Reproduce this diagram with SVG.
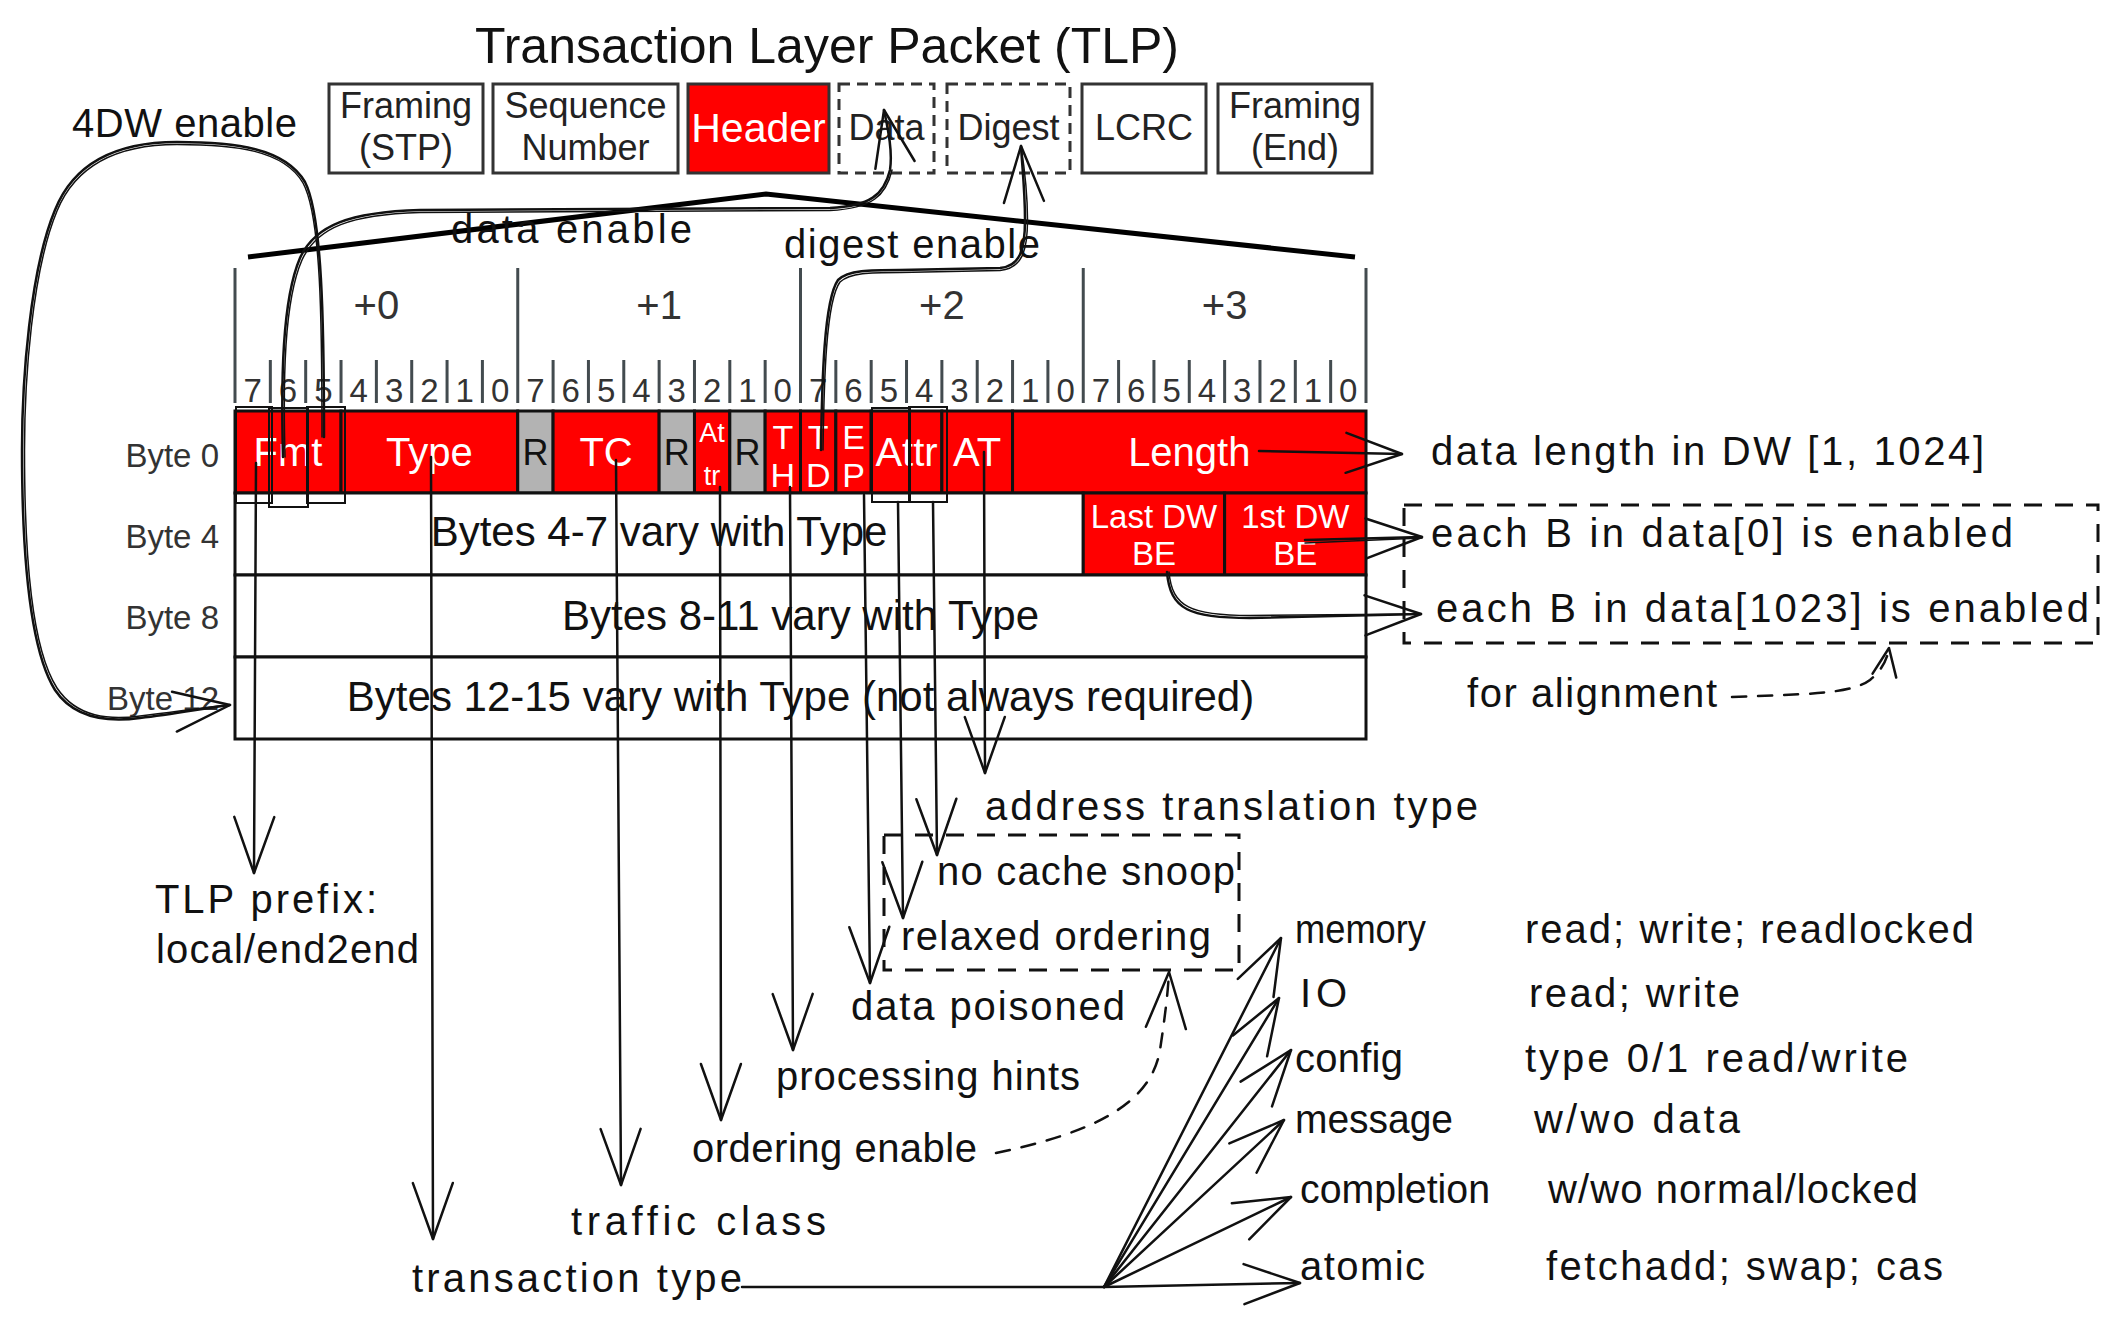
<svg xmlns="http://www.w3.org/2000/svg" xmlns:xlink="http://www.w3.org/1999/xlink" width="2117" height="1332" viewBox="0 0 2117 1332">
<style>
.title{font-family:"Liberation Sans",Arial,sans-serif;font-size:50px;fill:#111;text-anchor:middle}
.box{fill:#fff;stroke:#333;stroke-width:3}
.dbox{fill:#fff;stroke:#333;stroke-width:3;stroke-dasharray:11 7}
.btxt{font-family:"Liberation Sans",Arial,sans-serif;font-size:36px;fill:#222;text-anchor:middle}
.tick{stroke:#434b4f;stroke-width:3}
.bit{font-family:"Liberation Sans",Arial,sans-serif;font-size:33px;fill:#333;text-anchor:middle}
.off{font-family:"Liberation Sans",Arial,sans-serif;font-size:40px;fill:#333;text-anchor:middle}
.red{fill:#ff0000;stroke:#111;stroke-width:3}
.gray{fill:#b3b3b3;stroke:#111;stroke-width:3}
.row{fill:#fff;stroke:#111;stroke-width:3}
.wt{font-family:"Liberation Sans",Arial,sans-serif;font-size:40px;fill:#fff;text-anchor:middle}
.bk{font-family:"Liberation Sans",Arial,sans-serif;font-size:42px;fill:#111;text-anchor:middle}
.blab{font-family:"Liberation Sans",Arial,sans-serif;font-size:33px;fill:#333;text-anchor:end}
.hw{font-family:"Liberation Sans",Arial,sans-serif;font-size:40px;fill:#111}
.ln{fill:none;stroke:#111;stroke-width:2.5;stroke-linecap:round;stroke-linejoin:round}
.ln2{fill:none;stroke:#111;stroke-width:1.5;stroke-linecap:round;stroke-linejoin:round}
.dash{fill:none;stroke:#111;stroke-width:2.5;stroke-dasharray:14 12;stroke-linecap:round}
.sk{fill:none;stroke:#111;stroke-width:2}
.dbx{fill:none;stroke:#111;stroke-width:3;stroke-dasharray:18 13}
</style>
<defs>
<marker id="ah" markerUnits="userSpaceOnUse" viewBox="-70 -30 80 60" markerWidth="80" markerHeight="60" refX="0" refY="0" orient="auto" overflow="visible">
<path d="M-56,-20 L0,0 L-56,20" fill="none" stroke="#111" stroke-width="2.5" stroke-linecap="round" stroke-linejoin="round"/>
</marker>
<marker id="ahs" markerUnits="userSpaceOnUse" viewBox="-40 -20 50 40" markerWidth="50" markerHeight="40" refX="0" refY="0" orient="auto" overflow="visible">
<path d="M-28,-12 L0,0 L-28,12" fill="none" stroke="#111" stroke-width="2.5" stroke-linecap="round" stroke-linejoin="round"/>
</marker>
</defs>
<rect width="2117" height="1332" fill="#fff"/>

<g id="title"><text class="title" x="827" y="63">Transaction Layer Packet (TLP)</text></g>

<g id="tlp-framing-stp"><rect class="box" x="329" y="84" width="154" height="89"/><text class="btxt" x="406" y="118">Framing</text><text class="btxt" x="406" y="160">(STP)</text></g>
<g id="tlp-sequence"><rect class="box" x="493" y="84" width="185" height="89"/><text class="btxt" x="585.5" y="118">Sequence</text><text class="btxt" x="585.5" y="160">Number</text></g>
<g id="tlp-header"><rect x="688" y="84" width="141" height="89" fill="#ff0000" stroke="#333" stroke-width="3"/><text class="btxt" style="fill:#fff;font-size:41px" x="758.5" y="142">Header</text></g>
<g id="tlp-data"><rect class="dbox" x="839" y="84" width="95" height="89"/><text class="btxt" x="886.5" y="140">Data</text></g>
<g id="tlp-digest"><rect class="dbox" x="947" y="84" width="123" height="89"/><text class="btxt" x="1008.5" y="140">Digest</text></g>
<g id="tlp-lcrc"><rect class="box" x="1082" y="84" width="124" height="89"/><text class="btxt" x="1144" y="140">LCRC</text></g>
<g id="tlp-framing-end"><rect class="box" x="1218" y="84" width="154" height="89"/><text class="btxt" x="1295" y="118">Framing</text><text class="btxt" x="1295" y="160">(End)</text></g>

<g id="roof"><polyline points="248,257 766,194 1355,257" fill="none" stroke="#000" stroke-width="5"/></g>

<g id="ruler">
<line class="tick" x1="235" y1="268" x2="235" y2="403"/>
<line class="tick" x1="517.75" y1="268" x2="517.75" y2="403"/>
<line class="tick" x1="800.5" y1="268" x2="800.5" y2="403"/>
<line class="tick" x1="1083.25" y1="268" x2="1083.25" y2="403"/>
<line class="tick" x1="1366" y1="268" x2="1366" y2="403"/>
<path class="tick" d="M270.34,360V403M305.69,360V403M341.03,360V403M376.38,360V403M411.72,360V403M447.06,360V403M482.41,360V403M553.09,360V403M588.44,360V403M623.78,360V403M659.13,360V403M694.47,360V403M729.81,360V403M765.16,360V403M835.84,360V403M871.19,360V403M906.53,360V403M941.88,360V403M977.22,360V403M1012.56,360V403M1047.91,360V403M1118.59,360V403M1153.94,360V403M1189.28,360V403M1224.63,360V403M1259.97,360V403M1295.31,360V403M1330.66,360V403"/>
<text class="off" x="376.4" y="319">+0</text>
<text class="off" x="659.1" y="319">+1</text>
<text class="off" x="941.9" y="319">+2</text>
<text class="off" x="1224.6" y="319">+3</text>
<text class="bit" x="252.7" y="402">7</text><text class="bit" x="288" y="402">6</text><text class="bit" x="323.4" y="402">5</text><text class="bit" x="358.7" y="402">4</text><text class="bit" x="394.1" y="402">3</text><text class="bit" x="429.4" y="402">2</text><text class="bit" x="464.7" y="402">1</text><text class="bit" x="500.1" y="402">0</text>
<text class="bit" x="535.4" y="402">7</text><text class="bit" x="570.8" y="402">6</text><text class="bit" x="606.1" y="402">5</text><text class="bit" x="641.5" y="402">4</text><text class="bit" x="676.8" y="402">3</text><text class="bit" x="712.1" y="402">2</text><text class="bit" x="747.5" y="402">1</text><text class="bit" x="782.8" y="402">0</text>
<text class="bit" x="818.2" y="402">7</text><text class="bit" x="853.5" y="402">6</text><text class="bit" x="888.9" y="402">5</text><text class="bit" x="924.2" y="402">4</text><text class="bit" x="959.5" y="402">3</text><text class="bit" x="994.9" y="402">2</text><text class="bit" x="1030.2" y="402">1</text><text class="bit" x="1065.6" y="402">0</text>
<text class="bit" x="1100.9" y="402">7</text><text class="bit" x="1136.3" y="402">6</text><text class="bit" x="1171.6" y="402">5</text><text class="bit" x="1206.9" y="402">4</text><text class="bit" x="1242.3" y="402">3</text><text class="bit" x="1277.6" y="402">2</text><text class="bit" x="1313" y="402">1</text><text class="bit" x="1348.3" y="402">0</text>
</g>

<g id="byte-labels">
<text class="blab" x="219" y="467">Byte 0</text>
<text class="blab" x="219" y="548">Byte 4</text>
<text class="blab" x="219" y="629">Byte 8</text>
<text class="blab" x="219" y="710">Byte 12</text>
</g>

<g id="row-byte0">
<rect class="red" x="235" y="411" width="106.03" height="82"/>
<rect class="red" x="341.03" y="411" width="176.72" height="82"/>
<rect class="gray" x="517.75" y="411" width="35.34" height="82"/>
<rect class="red" x="553.09" y="411" width="106.04" height="82"/>
<rect class="gray" x="659.13" y="411" width="35.34" height="82"/>
<rect class="red" x="694.47" y="411" width="35.34" height="82"/>
<rect class="gray" x="729.81" y="411" width="35.35" height="82"/>
<rect class="red" x="765.16" y="411" width="35.34" height="82"/>
<rect class="red" x="800.5" y="411" width="35.34" height="82"/>
<rect class="red" x="835.84" y="411" width="35.35" height="82"/>
<rect class="red" x="871.19" y="411" width="70.69" height="82"/>
<rect class="red" x="941.88" y="411" width="70.68" height="82"/>
<rect class="red" x="1012.56" y="411" width="353.44" height="82"/>
<text class="wt" x="288" y="466">Fmt</text>
<text class="wt" x="429.4" y="466">Type</text>
<text class="wt" style="fill:#111;font-size:36px" x="535.4" y="465">R</text>
<text class="wt" x="606.1" y="466">TC</text>
<text class="wt" style="fill:#111;font-size:36px" x="676.8" y="465">R</text>
<text class="wt" style="font-size:27px" x="712.1" y="442">At</text>
<text class="wt" style="font-size:27px" x="712.1" y="485">tr</text>
<text class="wt" style="fill:#111;font-size:36px" x="747.5" y="465">R</text>
<text class="wt" style="font-size:34px" x="782.8" y="449">T</text>
<text class="wt" style="font-size:34px" x="782.8" y="487">H</text>
<text class="wt" style="font-size:34px" x="818.2" y="449">T</text>
<text class="wt" style="font-size:34px" x="818.2" y="487">D</text>
<text class="wt" style="font-size:34px" x="853.5" y="449">E</text>
<text class="wt" style="font-size:34px" x="853.5" y="487">P</text>
<text class="wt" x="906.5" y="466">Attr</text>
<text class="wt" x="977.2" y="466">AT</text>
<text class="wt" x="1189.3" y="466">Length</text>
</g>

<g id="row-byte4">
<rect class="row" x="235" y="493" width="848.25" height="82"/>
<rect class="red" x="1083.25" y="493" width="141.38" height="82"/>
<rect class="red" x="1224.63" y="493" width="141.37" height="82"/>
<text class="bk" x="659" y="546">Bytes 4-7 vary with Type</text>
<text class="wt" style="font-size:33px" x="1154" y="528">Last DW</text>
<text class="wt" style="font-size:33px" x="1154" y="565">BE</text>
<text class="wt" style="font-size:33px" x="1295.3" y="528">1st DW</text>
<text class="wt" style="font-size:33px" x="1295.3" y="565">BE</text>
</g>
<g id="row-byte8"><rect class="row" x="235" y="575" width="1131" height="82"/><text class="bk" x="800.5" y="630">Bytes 8-11 vary with Type</text></g>
<g id="row-byte12"><rect class="row" x="235" y="657" width="1131" height="82"/><text class="bk" x="800.5" y="711">Bytes 12-15 vary with Type (not always required)</text></g>

<g id="bit-highlights">
<rect class="sk" x="236" y="407" width="36" height="96"/>
<rect class="sk" x="269" y="408" width="39" height="99"/>
<rect class="sk" x="307" y="407" width="38" height="96"/>
<rect class="sk" x="872" y="408" width="38" height="94"/>
<rect class="sk" x="909" y="407" width="38" height="95"/>
</g>

<g id="dashed-groups">
<rect class="dbx" x="884" y="835" width="355" height="135"/>
<rect class="dbx" x="1404" y="505" width="694" height="138"/>
</g>

<g id="annotations">
<text class="hw" x="72" y="137" textLength="225" lengthAdjust="spacing">4DW enable</text>
<text class="hw" x="451" y="243" textLength="241" lengthAdjust="spacing">data enable</text>
<text class="hw" x="784" y="258" textLength="256" lengthAdjust="spacing">digest enable</text>
<text class="hw" x="1431" y="465" textLength="553" lengthAdjust="spacing">data length in DW [1, 1024]</text>
<text class="hw" x="1431" y="547" textLength="582" lengthAdjust="spacing">each B in data[0] is enabled</text>
<text class="hw" x="1436" y="622" textLength="653" lengthAdjust="spacing">each B in data[1023] is enabled</text>
<text class="hw" x="1467" y="707" textLength="250" lengthAdjust="spacing">for alignment</text>
<text class="hw" x="985" y="820" textLength="493" lengthAdjust="spacing">address translation type</text>
<text class="hw" x="937" y="885" textLength="298" lengthAdjust="spacing">no cache snoop</text>
<text class="hw" x="901" y="950" textLength="310" lengthAdjust="spacing">relaxed ordering</text>
<text class="hw" x="851" y="1020" textLength="274" lengthAdjust="spacing">data poisoned</text>
<text class="hw" x="776" y="1090" textLength="304" lengthAdjust="spacing">processing hints</text>
<text class="hw" x="692" y="1162" textLength="285" lengthAdjust="spacing">ordering enable</text>
<text class="hw" x="571" y="1235" textLength="255" lengthAdjust="spacing">traffic class</text>
<text class="hw" x="412" y="1292" textLength="330" lengthAdjust="spacing">transaction type</text>
<text class="hw" x="155" y="913" textLength="222" lengthAdjust="spacing">TLP prefix:</text>
<text class="hw" x="156" y="963" textLength="263" lengthAdjust="spacing">local/end2end</text>
<text class="hw" x="1295" y="943" textLength="131" lengthAdjust="spacingAndGlyphs">memory</text>
<text class="hw" x="1525" y="943" textLength="449" lengthAdjust="spacing">read; write; readlocked</text>
<text class="hw" x="1300" y="1007" textLength="47" lengthAdjust="spacing">IO</text>
<text class="hw" x="1529" y="1007" textLength="211" lengthAdjust="spacing">read; write</text>
<text class="hw" x="1295" y="1072" textLength="108" lengthAdjust="spacing">config</text>
<text class="hw" x="1525" y="1072" textLength="383" lengthAdjust="spacing">type 0/1 read/write</text>
<text class="hw" x="1295" y="1133" textLength="158" lengthAdjust="spacingAndGlyphs">message</text>
<text class="hw" x="1534" y="1133" textLength="206" lengthAdjust="spacing">w/wo data</text>
<text class="hw" x="1300" y="1203" textLength="190" lengthAdjust="spacingAndGlyphs">completion</text>
<text class="hw" x="1548" y="1203" textLength="370" lengthAdjust="spacing">w/wo normal/locked</text>
<text class="hw" x="1300" y="1280" textLength="125" lengthAdjust="spacing">atomic</text>
<text class="hw" x="1546" y="1280" textLength="397" lengthAdjust="spacing">fetchadd; swap; cas</text>
</g>

<g id="connectors">
<path class="ln" marker-end="url(#ah)" d="M324,437 C324,320 322,215 305,182 C285,148 235,142 177,142 C120,142 75,160 55,210 C30,270 22,380 22,450 C22,560 30,650 55,690 C75,720 110,722 140,718 C175,714 205,708 230,705"/>
<path class="ln2" d="M322,437 C322,320 321,216 303,183 C284,150 235,144.5 177,144.5 C121,144.5 77,162 57,211 C32,271 24.5,380 24.5,450 C24.5,560 32,649 57,688 C77,718 110,720 140,716 C175,712 205,707 230,705"/>
<path class="ln" marker-end="url(#ah)" d="M283,457 C281,380 282,300 300,258 C315,225 350,212 420,210 L830,208 C870,206 884,195 890,170 C893,150 887,125 884,110"/>
<path class="ln2" d="M285,457 C283,380 284,301 302,260 C317,227 351,214.5 420,212.5 L830,210.5 C872,208.5 886,196 892,170"/>
<path class="ln" marker-end="url(#ah)" d="M821,450 C822,380 824,300 838,280 C848,270 870,270 900,270 L1000,268 C1020,266 1025,250 1025,220 C1025,190 1022,165 1021,146"/>
<path class="ln2" d="M823,450 C824,380 826,301 840,282 C850,272.5 870,272.5 900,272.5 L1000,270.5 C1022,268.5 1027.5,251 1027.5,220 C1027.5,190 1024,165 1021,146"/>
<path class="ln" marker-end="url(#ah)" d="M1259,451 L1402,454"/>
<path class="ln" marker-end="url(#ah)" d="M1305,540 L1422,537"/>
<path class="ln2" d="M1305,543 L1422,538"/>
<path class="ln" marker-end="url(#ah)" d="M1167,572 C1170,610 1190,618 1250,618 L1421,614"/>
<path class="ln2" d="M1169,572 C1172,607 1191,615.5 1250,615.5 L1421,614"/>
<path class="ln" marker-end="url(#ah)" d="M256,463 L254,873"/>
<path class="ln" marker-end="url(#ah)" d="M431,457 L433,1239"/>
<path class="ln" marker-end="url(#ah)" d="M616,460 L621,1185"/>
<path class="ln" marker-end="url(#ah)" d="M720,487 L721,1120"/>
<path class="ln" marker-end="url(#ah)" d="M790,487 L793,1050"/>
<path class="ln" marker-end="url(#ah)" d="M864,495 L870,983"/>
<path class="ln" marker-end="url(#ah)" d="M898,502 L903,918"/>
<path class="ln" marker-end="url(#ah)" d="M933,502 L937,855"/>
<path class="ln" marker-end="url(#ah)" d="M984,452 L985,773"/>
<path class="ln" marker-end="url(#ah)" d="M742,1287 L1104,1287 L1300,1283"/>
<path class="ln" marker-end="url(#ah)" d="M1104,1287 L1281,938"/>
<path class="ln" marker-end="url(#ah)" d="M1104,1287 L1279,998"/>
<path class="ln" marker-end="url(#ah)" d="M1104,1287 L1291,1050"/>
<path class="ln" marker-end="url(#ah)" d="M1104,1287 L1284,1120"/>
<path class="ln" marker-end="url(#ah)" d="M1104,1287 L1291,1197"/>
<path class="dash" marker-end="url(#ah)" d="M996,1153 C1080,1135 1150,1110 1160,1050 C1166,1010 1168,990 1169,972"/>
<path class="dash" marker-end="url(#ahs)" d="M1732,697 C1800,694 1850,695 1870,680 C1882,670 1887,660 1889,648"/>
</g>
</svg>
